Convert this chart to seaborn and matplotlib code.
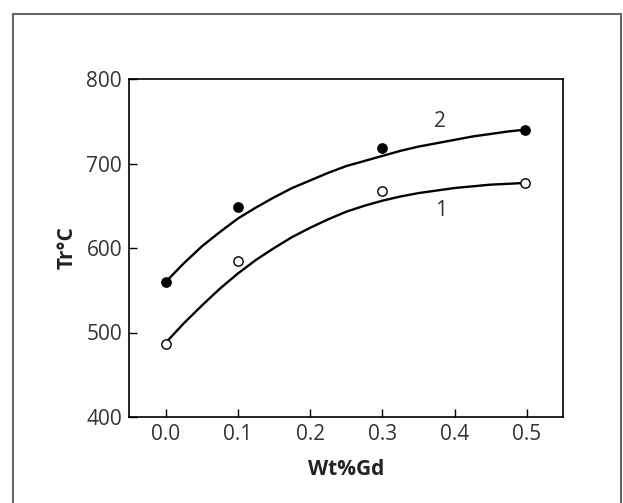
import matplotlib
matplotlib.use("Agg")
import matplotlib.pyplot as plt
from matplotlib.lines import Line2D
import seaborn as sns
import pandas as pd

# measured points
pt_x = [0.0, 0.1, 0.3, 0.497]
filled_y = [560, 649, 718, 740]   # curve 2
open_y = [486, 585, 668, 677]     # curve 1

# fitted curves
curve_x = [0.0, 0.025, 0.05, 0.075, 0.1, 0.125, 0.15, 0.175, 0.2, 0.225, 0.25,
           0.275, 0.3, 0.325, 0.35, 0.375, 0.4, 0.425, 0.45, 0.475, 0.497]
curve2_y = [560, 582, 602, 619, 635, 648, 660, 671, 680, 689, 697,
            703, 709, 715, 720, 724, 728, 732, 735, 738, 740]
curve1_y = [488, 511, 532, 552, 570, 586, 600, 613, 624, 634, 643,
            650, 656, 661, 665, 668, 671, 673, 675, 676, 677]

x_ticks = [0.0, 0.1, 0.2, 0.3, 0.4, 0.5]
y_ticks = [400, 500, 600, 700, 800]

sns.set_theme(style="ticks")
plt.rcParams['font.family'] = ['Open Sans', 'DejaVu Sans']

fig = plt.figure(figsize=(6.23, 5.03), dpi=100)
ax = fig.add_axes([129/623, 1-417/503, (563-129)/623, (417-79)/503])

c1 = pd.DataFrame({"x": curve_x, "y": curve1_y})
c2 = pd.DataFrame({"x": curve_x, "y": curve2_y})
sns.lineplot(data=c2, x="x", y="y", ax=ax, color="black", linewidth=1.7, sort=True)
sns.lineplot(data=c1, x="x", y="y", ax=ax, color="black", linewidth=1.7, sort=True)

sns.scatterplot(x=pt_x, y=filled_y, ax=ax, s=45, color="black", edgecolor="black",
                linewidth=1.0, zorder=5)
sns.scatterplot(x=pt_x, y=open_y, ax=ax, s=45, facecolor="white", edgecolor="black",
                linewidth=1.0, zorder=5)

ax.text(0.379, 750, "2", fontsize=15, color="#333333", ha="center", va="center")
ax.text(0.381, 644, "1", fontsize=15, color="#333333", ha="center", va="center")

ax.set_xlim(-0.051, 0.55)
ax.set_ylim(400, 800)
ax.set_xticks(x_ticks)
ax.set_xticklabels([f"{v:.1f}" for v in x_ticks])
ax.set_yticks(y_ticks)
ax.set_yticklabels([str(v) for v in y_ticks])
ax.tick_params(direction="in", length=6, width=1.0, colors="black",
               labelsize=15, labelcolor="#333333", pad=5)
for s in ax.spines.values():
    s.set_linewidth(1.2)
    s.set_color("black")

ax.set_xlabel("Wt%Gd", fontsize=15, fontweight="bold", color="#222222", labelpad=10)
ax.set_ylabel("Tr°C", fontsize=15, fontweight="bold", color="#222222", labelpad=6)

# outer border
bc = "#666666"
fig.add_artist(Line2D([12.5/623, 12.5/623], [0, 1-13.5/503], color=bc, lw=1.5))
fig.add_artist(Line2D([12.5/623, 621/623], [1-13.5/503, 1-13.5/503], color=bc, lw=1.5))
fig.add_artist(Line2D([621/623, 621/623], [0, 1-13.5/503], color=bc, lw=1.5))

fig.savefig("out.png", dpi=100)
